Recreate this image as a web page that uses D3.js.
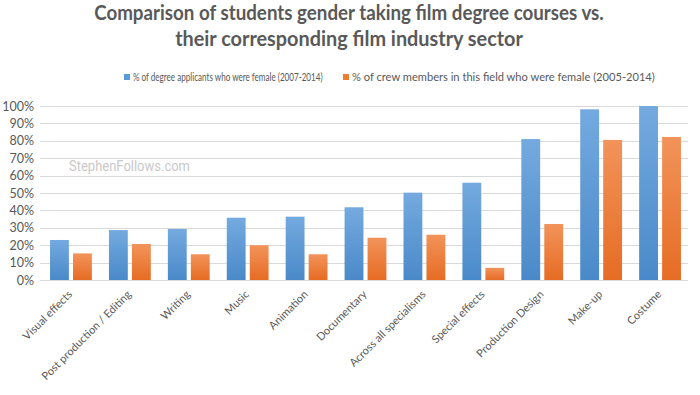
<!DOCTYPE html>
<html>
<head>
<meta charset="utf-8">
<script src="https://cdn.jsdelivr.net/npm/d3@7"></script>
<style>
  body { margin: 0; background: #fff; }
  svg { display: block; }
</style>
</head>
<body>
<svg id="chart" width="700" height="395"></svg>
<script>
// Data
const categories = ["Visual effects", "Post production / Editing", "Writing", "Music", "Animation",
    "Documentary", "Across all specialisms", "Special effects", "Production Design", "Make-up", "Costume"];
const degree_female = [0.23, 0.287, 0.293, 0.358, 0.364, 0.418, 0.502, 0.559, 0.81, 0.981, 1.0];
const crew_female = [0.153, 0.207, 0.148, 0.20, 0.148, 0.243, 0.26, 0.07, 0.322, 0.805, 0.822];
const series_names = ["% of degree applicants who were female (2007-2014)",
    "% of crew members in this field who were female (2005-2014)"];
const y_ticks = [0, 0.1, 0.2, 0.3, 0.4, 0.5, 0.6, 0.7, 0.8, 0.9, 1.0];
const title_lines = ["Comparison of students gender taking film degree courses vs.",
    "their corresponding film industry sector"];

const svg = d3.select("#chart");
const font = "Lato, 'Open Sans', sans-serif";
const text_colour = "#595959";

// Squeeze a text horizontally so it takes the given width (the original uses a narrow font)
function fit_width(text_sel, x, y, width, anchor) {
    const w = text_sel.node().getComputedTextLength();
    const sx = width / w;
    text_sel.attr("x", 0).attr("y", 0)
        .attr("transform", "translate(" + x + "," + y + ") scale(" + sx + ",1)");
}

// Gradients for the bars (lighter at the top, like the original)
const defs = svg.append("defs");
const grads = [["blue_grad", "#74aadf", "#4a89c9"], ["orange_grad", "#f2935a", "#e66c24"]];
grads.forEach(function (g) {
    const lg = defs.append("linearGradient").attr("id", g[0])
        .attr("x1", 0).attr("y1", 0).attr("x2", 0).attr("y2", 1);
    lg.append("stop").attr("offset", "0%").attr("stop-color", g[1]);
    lg.append("stop").attr("offset", "100%").attr("stop-color", g[2]);
});

// Scales
const x0 = d3.scaleBand().domain(categories).range([41.5, 689.5]).paddingInner(0.29).paddingOuter(0.145);
const x1 = d3.scaleBand().domain([0, 1]).range([0, x0.bandwidth()]).paddingInner(0.18);
const y = d3.scaleLinear().domain([0, 1]).range([280, 106]);

// Title
const title_y = [20, 46];
const title_w = [510, 348];
title_lines.forEach(function (line, i) {
    const t = svg.append("text").attr("text-anchor", "middle")
        .style("font-family", font).style("font-weight", "bold").style("font-size", "20.5px")
        .attr("fill", text_colour)
        .text(line);
    fit_width(t, 349, title_y[i], title_w[i]);
});

// Legend
const legend_x = [124, 343];
const legend_w = [190, 303];
const legend_fill = ["#5b9bd5", "#ed7d31"];
series_names.forEach(function (name, i) {
    svg.append("rect").attr("x", legend_x[i]).attr("y", 74).attr("width", 6).attr("height", 6)
        .attr("fill", legend_fill[i]);
    const t = svg.append("text")
        .style("font-family", font).style("font-size", "12px").attr("fill", text_colour)
        .text(name);
    fit_width(t, legend_x[i] + 9, 80.5, legend_w[i]);
});

// Gridlines
svg.append("g").selectAll("line").data(y_ticks).enter().append("line")
    .attr("x1", 40).attr("x2", 688)
    .attr("y1", d => Math.round(y(d)) + 0.5).attr("y2", d => Math.round(y(d)) + 0.5)
    .attr("stroke", "#d9d9d9").attr("stroke-width", 1);

// Y axis labels
const y_axis = svg.append("g").attr("transform", "translate(36,0)")
    .call(d3.axisLeft(y).tickValues(y_ticks).tickSize(0).tickPadding(2).tickFormat(d3.format(".0%")));
y_axis.select(".domain").remove();
y_axis.selectAll("text").style("font-family", font).style("font-size", "12.5px").attr("fill", text_colour);

// Watermark
const wm = svg.append("text")
    .style("font-family", "Roboto, 'Open Sans', sans-serif").style("font-size", "14px")
    .attr("fill", "#c9c9c9")
    .text("StephenFollows.com");
fit_width(wm, 69, 171, 121);

// Bars
const groups = svg.append("g").selectAll("g").data(categories).enter().append("g")
    .attr("transform", d => "translate(" + x0(d) + ",0)");

groups.append("rect")
    .attr("x", x1(0)).attr("width", x1.bandwidth())
    .attr("y", (d, i) => y(degree_female[i]))
    .attr("height", (d, i) => y(0) - y(degree_female[i]))
    .attr("fill", "url(#blue_grad)");

groups.append("rect")
    .attr("x", x1(1)).attr("width", x1.bandwidth())
    .attr("y", (d, i) => y(crew_female[i]))
    .attr("height", (d, i) => y(0) - y(crew_female[i]))
    .attr("fill", "url(#orange_grad)");

// X axis labels, rotated
svg.append("g").selectAll("text").data(categories).enter().append("text")
    .attr("transform", d => "translate(" + (x0(d) + x0.bandwidth() / 2 + 2) + ",295) rotate(-45)")
    .attr("text-anchor", "end")
    .style("font-family", font).style("font-size", "11px").attr("fill", text_colour)
    .text(d => d);
</script>
</body>
</html>
